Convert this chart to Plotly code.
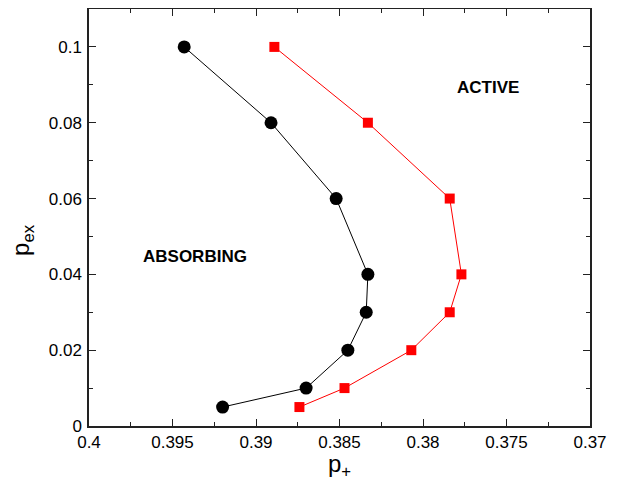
import plotly.graph_objects as go

pex = [0.1, 0.08, 0.06, 0.04, 0.03, 0.02, 0.01, 0.005]
p_absorb = [0.3943, 0.3891, 0.3852, 0.3833, 0.3834, 0.3845, 0.3870, 0.3920]
p_active = [0.3889, 0.3833, 0.3784, 0.3777, 0.3784, 0.3807, 0.3847, 0.3874]

x_ticks = [0.4, 0.395, 0.39, 0.385, 0.38, 0.375, 0.37]
x_ticklabels = ["0.4", "0.395", "0.39", "0.385", "0.38", "0.375", "0.37"]
y_ticks = [0, 0.02, 0.04, 0.06, 0.08, 0.1]
y_ticklabels = ["0", "0.02", "0.04", "0.06", "0.08", "0.1"]

fig = go.Figure()
fig.add_trace(go.Scatter(x=p_absorb, y=pex, mode="lines+markers",
                         line=dict(color="black", width=1),
                         marker=dict(symbol="circle", size=13, color="black"),
                         showlegend=False))
fig.add_trace(go.Scatter(x=p_active, y=pex, mode="lines+markers",
                         line=dict(color="red", width=1),
                         marker=dict(symbol="square", size=10, color="red"),
                         showlegend=False))

font = "Liberation Sans, Arial, sans-serif"
axis_common = dict(showline=True, linecolor="#222222", linewidth=1.5, mirror="allticks",
                   ticks="inside", ticklen=7, tickcolor="#222222", tickwidth=1,
                   showgrid=False, zeroline=False, automargin=False,
                   tickfont=dict(family=font, size=17, color="black"))

fig.update_xaxes(range=[0.4, 0.37], tickvals=x_ticks, ticktext=x_ticklabels,
                 minor=dict(ticks="inside", ticklen=4, dtick=0.0025, tickcolor="#222222"),
                 **axis_common)
fig.update_yaxes(range=[0, 0.11], tickvals=y_ticks, ticktext=y_ticklabels,
                 minor=dict(ticks="inside", ticklen=4, dtick=0.01, tickcolor="#222222"),
                 ticklabelstandoff=2,
                 **axis_common)

# axis titles
fig.add_annotation(xref="paper", yref="paper", x=0.5, y=-0.052, xanchor="center", yanchor="top",
                   text="p<sub>+</sub>", showarrow=False,
                   font=dict(family=font, size=24, color="black"))
fig.add_annotation(xref="paper", yref="paper", x=-0.134, y=0.446, xanchor="center", yanchor="middle",
                   text="p<sub>ex</sub>", textangle=-90, showarrow=False,
                   font=dict(family=font, size=24, color="black"))

fig.add_annotation(x=0.39365, y=0.0448, text="<b>ABSORBING</b>", showarrow=False,
                   font=dict(family=font, size=17, color="black"))
fig.add_annotation(x=0.3761, y=0.0892, text="<b>ACTIVE</b>", showarrow=False,
                   font=dict(family=font, size=17, color="black"))

# page body has an 8px margin; size/offset the figure to compensate
fig.update_layout(width=610, height=470, plot_bgcolor="white", paper_bgcolor="white",
                  margin=dict(l=81, r=28, t=1, b=52))
fig.write_html("out.html")
